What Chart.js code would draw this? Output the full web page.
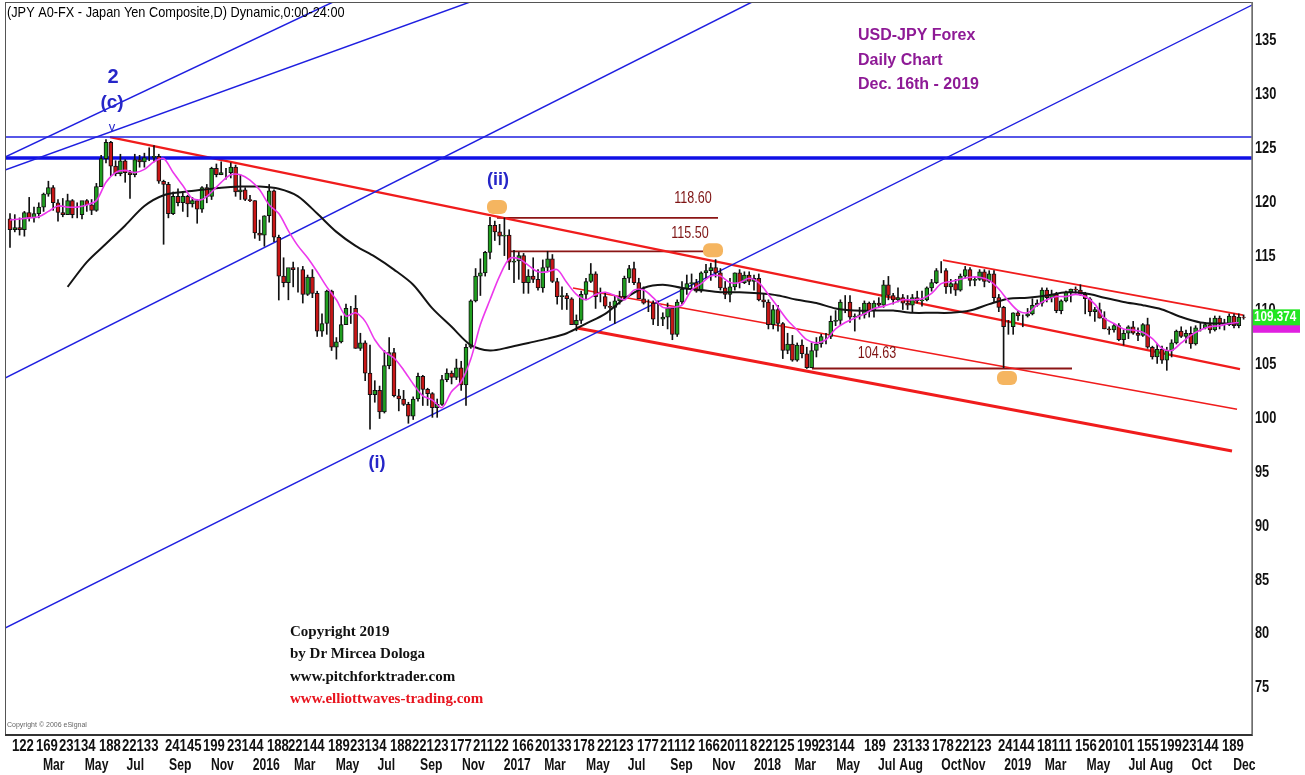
<!DOCTYPE html>
<html>
<head>
<meta charset="utf-8">
<script src="https://cdn.jsdelivr.net/npm/chart.js@4.4.1/dist/chart.umd.min.js"></script>
<style>
  html, body { margin: 0; padding: 0; background: #fff; }
  #wrap { width: 1305px; height: 775px; }
</style>
</head>
<body>
<div id="wrap"><canvas id="grafico" width="1305" height="775"></canvas></div>
<script>
// weekly candles, week 1 = week of 12 Jan 2015 (week 0 = 5 Jan 2015)
const firstOpen = 118.5;

const highs = [
  // 2015
  119.0,118.9,118.6,119.2,120.5,119.6,120.0,120.9,122.0,121.6,
  120.3,120.4,120.8,120.3,120.0,120.0,120.3,120.3,121.8,124.4,
  125.86,125.7,123.9,124.5,124.0,123.0,124.5,124.4,124.6,125.1,
  125.3,124.5,122.1,121.9,121.0,121.3,120.9,120.7,120.5,120.3,
  121.5,121.7,123.3,123.6,123.8,123.2,123.7,123.5,122.6,121.4,120.7,
  // 2016
  120.2,118.4,118.8,121.7,121.2,117.0,114.9,113.5,114.5,114.0,
  114.1,113.3,113.8,111.8,109.7,111.9,111.9,107.5,109.5,110.6,
  110.4,111.4,107.9,107.2,106.8,103.5,103.0,106.3,107.5,106.5,
  102.7,102.6,101.5,102.0,104.2,104.0,102.8,102.4,101.8,104.0,
  104.6,104.4,105.5,105.3,106.9,111.0,113.9,114.8,115.5,118.66,118.3,118.0,
  // 2017
  118.6,117.5,115.6,115.4,115.3,113.8,114.9,113.8,114.7,115.5,
  115.2,113.0,112.2,111.6,111.2,109.6,111.8,113.0,114.37,113.6,
  112.1,111.7,110.8,111.4,111.8,113.2,114.2,114.5,113.0,112.2,
  111.0,110.9,110.9,109.8,110.7,110.3,111.0,112.7,113.3,113.4,
  112.9,113.6,114.3,114.4,114.73,113.9,112.7,113.0,113.5,113.8,113.6,113.6,
  // 2018
  113.3,113.4,111.5,111.0,110.5,110.5,108.9,107.9,107.7,107.0,
  107.3,106.6,107.0,107.5,107.8,107.9,109.5,110.0,111.0,111.4,
  111.4,109.7,110.3,110.9,110.8,110.9,111.2,112.8,113.17,111.6,
  112.1,111.5,111.4,111.5,111.8,111.8,112.2,112.9,113.9,114.55,
  113.9,112.9,112.9,113.4,114.1,114.0,113.1,113.8,113.8,113.7,113.7,111.5,
  // 2019
  110.4,109.1,109.8,110.0,109.6,110.2,111.1,111.0,112.1,112.1,
  111.9,111.7,111.0,111.8,112.0,112.2,112.4,111.7,111.2,110.3,
  110.7,109.9,108.5,108.8,108.8,108.2,108.6,109.0,108.4,108.8,
  109.3,106.7,106.9,106.7,106.6,107.3,108.2,108.5,108.2,108.5,
  108.6,108.9,108.9,109.3,109.5,109.5,109.2,109.7,109.7,109.7,109.6
];

const lows = [
  // 2015
  115.85,117.3,117.0,116.9,118.3,118.2,118.6,119.2,120.6,119.3,
  118.3,118.7,118.9,118.6,118.6,118.5,119.2,118.9,119.2,121.5,
  123.7,122.5,122.5,122.5,121.9,120.4,122.4,123.3,123.3,123.9,
  123.8,121.8,116.15,118.6,118.9,119.7,119.2,118.7,119.6,118.1,
  119.1,120.0,120.3,122.4,122.6,122.2,122.3,120.6,120.3,120.2,120.1,
  // 2016
  116.7,116.5,115.97,118.2,116.4,110.98,112.2,111.0,112.2,111.7,
  110.7,111.4,111.2,107.6,107.6,107.8,106.3,105.5,107.0,108.7,
  108.8,106.5,106.3,103.5,99.0,101.5,99.99,100.5,104.6,102.0,
  100.7,101.2,99.55,99.9,101.6,101.2,101.2,100.1,100.1,101.2,
  103.4,103.2,103.6,102.6,101.2,106.5,110.8,111.4,113.2,114.8,116.5,116.1,
  // 2017
  115.1,113.8,112.6,112.9,111.6,111.6,112.6,111.9,111.7,113.6,
  112.6,110.6,110.1,110.1,108.7,108.13,108.8,111.0,112.6,110.2,
  110.8,110.2,109.1,108.8,110.6,111.0,112.6,112.4,111.1,110.6,
  109.9,108.7,108.6,108.6,108.3,107.3,107.6,110.6,111.5,112.0,
  111.7,111.7,113.0,112.8,113.1,111.9,111.1,110.8,111.9,112.1,112.5,112.4,
  // 2018
  111.9,110.9,110.3,108.3,108.3,108.1,105.55,106.0,105.3,105.3,
  105.6,104.63,104.7,105.7,106.6,106.9,107.4,108.6,108.7,109.8,
  108.9,108.1,109.2,109.3,109.4,109.4,110.3,110.3,111.0,110.6,
  110.8,110.1,110.1,109.8,110.7,110.4,110.9,111.8,112.5,113.5,
  111.6,111.6,111.4,111.8,113.0,112.3,112.3,112.8,112.2,112.6,110.8,109.9,
  // 2019
  104.7,107.8,107.8,109.1,108.5,109.4,109.6,110.4,110.4,110.8,
  110.8,109.8,109.7,110.8,110.8,111.6,111.4,109.7,109.5,109.0,
  109.3,108.3,107.8,108.0,107.2,106.8,107.4,107.8,107.2,107.6,
  106.5,105.5,105.1,105.1,104.46,105.7,106.9,107.5,107.0,106.5,
  106.8,108.1,108.3,107.9,108.1,108.3,108.2,108.6,108.4,108.4,109.2
];

const closes = [
  // 2015
  117.5,117.7,117.5,119.1,118.6,119.0,119.6,120.8,121.4,120.0,
  119.1,118.9,120.2,118.9,118.9,120.2,119.8,119.3,121.5,124.1,
  125.6,123.4,122.7,123.9,122.8,122.6,124.0,123.8,124.2,124.2,
  124.3,122.0,121.7,119.0,120.6,120.0,120.6,119.9,120.2,119.4,
  121.4,120.6,123.2,122.6,122.8,122.8,123.3,121.0,121.2,120.3,120.2,
  // 2016
  117.2,117.0,118.8,121.1,116.8,113.2,112.6,114.0,113.8,113.8,
  111.5,113.1,111.6,108.1,108.8,111.8,106.6,107.1,108.7,110.2,
  110.2,106.5,107.0,104.2,102.2,102.6,100.6,104.9,106.1,102.1,
  101.8,101.3,100.2,101.8,103.9,102.7,102.3,101.0,101.3,103.6,
  104.2,103.8,104.7,103.1,106.6,110.9,113.2,113.5,115.4,117.9,117.3,116.9,
  // 2017
  117.0,114.5,114.6,115.1,112.6,113.2,112.9,112.1,114.0,114.8,
  112.7,111.3,111.4,111.1,108.7,109.1,111.5,112.7,113.4,111.3,
  111.3,110.4,110.3,110.9,111.3,113.0,113.9,112.6,111.1,110.7,
  110.7,109.2,109.2,109.4,110.2,107.8,110.8,112.0,112.5,112.6,
  111.8,113.5,113.7,114.0,113.5,112.1,111.5,112.2,113.5,112.6,113.3,112.7,
  // 2018
  113.0,111.0,110.8,108.7,110.1,108.8,106.3,106.9,105.4,106.8,
  106.0,104.7,106.3,106.9,107.6,107.6,109.0,109.1,110.8,110.8,
  109.4,109.5,109.6,110.7,110.0,110.7,110.5,112.4,111.4,111.0,
  111.2,110.7,110.5,111.2,110.9,111.0,112.1,112.6,113.7,113.7,
  112.2,112.5,111.9,113.2,113.8,112.8,112.9,113.6,112.7,113.4,111.2,110.3,
  // 2019
  108.5,108.5,109.8,109.5,109.5,109.7,110.5,110.7,111.9,111.2,
  111.5,110.0,110.9,111.7,112.0,111.9,111.5,111.1,109.9,110.1,
  109.3,108.3,108.2,108.6,107.3,107.9,108.5,107.9,107.7,108.7,
  106.6,105.7,106.4,105.4,106.3,107.0,108.1,107.6,107.9,106.9,
  108.4,108.4,108.7,108.2,109.3,108.8,108.7,109.5,108.6,109.4,109.374
];

// magenta average, read every 2 weeks from week 1
const maFast = [
  118.4,118.5,118.6,118.7,119.2,119.7,119.6,119.6,119.8,120.2,
  121.9,122.8,123.0,122.8,123.1,123.8,124.1,122.8,121.6,120.4,
  120.3,121.0,121.9,122.6,122.6,122.1,121.2,119.8,119.0,117.4,
  116.0,114.9,113.6,112.2,111.0,109.5,109.8,109.0,107.3,106.2,
  105.6,104.5,103.2,102.1,101.7,101.0,102.5,103.4,105.5,108.7,
  111.0,113.2,114.8,114.8,114.2,113.6,113.6,113.8,112.6,111.5,
  111.0,111.5,111.7,111.4,111.0,111.9,111.9,111.2,110.3,110.3,
  110.5,111.9,112.5,113.2,113.2,112.6,112.6,113.0,112.6,111.5,
  110.3,109.1,108.2,107.3,107.0,107.3,108.3,108.9,109.3,109.7,
  110.2,110.4,110.7,111.0,111.0,111.1,111.6,112.5,112.7,112.9,
  113.1,113.1,112.8,112.0,110.9,110.0,109.8,110.5,111.0,111.3,
  111.3,111.5,111.3,110.6,109.3,108.8,108.3,108.2,108.0,107.4,
  106.5,106.3,107.0,107.7,108.2,108.5,108.6,108.8,108.9
];

// black average, read every 4 weeks from week 13
const maSlow = [
  112.2,114.5,116.2,117.9,119.7,120.7,121.0,121.2,121.4,121.5,
  121.5,121.3,120.6,119.0,117.3,116.0,115.0,113.8,112.4,110.2,
  108.5,106.8,106.3,106.6,107.0,107.4,107.9,108.8,109.7,111.1,
  112.1,112.4,112.1,111.9,111.7,111.7,111.6,111.4,111.0,110.7,
  110.2,110.0,110.0,110.0,109.8,109.8,109.8,110.0,110.6,111.1,
  111.2,111.4,111.7,111.6,111.2,110.8,110.5,110.1,109.4,108.9,
  108.8,108.8
];

// drawn tools: [week1, price1, week2, price2]
const blueLines = [
  [-0.04, 80.55, 259.75, 138.34],
  [-0.04, 103.74, 155.58, 138.62],
  [-0.04, 124.24, 68.29, 138.62],
  [-0.04, 123.03, 96.83, 138.62]
];
const blueLevels = [126.1, 124.15];
const redLines = [
  [21.83, 126.09, 257.25, 104.57],
  [195.38, 114.68, 257.9, 109.58],
  [118.29, 112.09, 256.63, 100.86],
  [119.13, 108.38, 255.58, 96.97]
];
const levels = [118.60, 115.50, 104.63];
const levelFrom = [102.46, 105.17, 168.08];
const levelTo = [148.5, 145.8, 222.25];
const levelText = ["118.60", "115.50", "104.63"];
const levelTextAt = [[143.29, 120.4], [142.67, 117.2], [181.63, 106.06]];
const markers = [[102.46, 119.6], [147.46, 115.6], [208.71, 103.74]];

const waveText = ["2", "(c)", "v", "(ii)", "(i)"];
const waveAt = [[22.46, 131.6], [22.25, 129.25], [22.25, 127.0], [102.67, 122.1], [77.46, 95.85]];

// axes
const yTicks = [75, 80, 85, 90, 95, 100, 105, 110, 115, 120, 125, 130, 135];
const monthStarts = ["2015-03","2015-05","2015-07","2015-09","2015-11","2016-01","2016-03","2016-05","2016-07","2016-09","2016-11",
  "2017-01","2017-03","2017-05","2017-07","2017-09","2017-11","2018-01","2018-03","2018-05","2018-07","2018-08","2018-10","2018-11",
  "2019-01","2019-03","2019-05","2019-07","2019-08","2019-10","2019-12"];
const monthLabels = ["Mar","May","Jul","Sep","Nov","2016","Mar","May","Jul","Sep","Nov",
  "2017","Mar","May","Jul","Sep","Nov","2018","Mar","May","Jul","Aug","Oct","Nov",
  "2019","Mar","May","Jul","Aug","Oct","Dec"];
const dayLabels = ["122","169","23134","188","22133","24145","199","23144","188","22144","189","23134","188","22123","177",
  "21122","166","20133","178","22123","177","21112","166","2011","8","22125","199","23144","189","23133","178","22123",
  "24144","18111","156","20101","155","199","23144","189"];
const dayLabelAt = [1.42,6.42,11.21,19.54,24.33,33.29,41.21,46.21,54.54,58.92,67.25,71.83,80.17,84.75,92.67,
  97.46,105.58,110.38,118.29,123.29,131.63,136.42,144.33,148.92,155.17,156.83,164.96,169.33,178.92,184.96,
  193.08,197.88,206.83,214.96,222.88,227.67,235.79,240.58,245.17,253.5];

const lastPrice = 109.374;
const lastAverage = 108.5;

function weekOf(s) {
  const p = s.split("-").map(Number);
  return (Date.UTC(p[0], p[1] - 1, p[2] || 1) - Date.UTC(2015, 0, 5)) / (7 * 864e5);
}

const opens = closes.map((c, i) => (i === 0 ? firstOpen : closes[i - 1]));
const wicks = closes.map((c, i) => ({ x: i + 1, y: [lows[i], highs[i]] }));
const bodies = closes.map((c, i) => ({ x: i + 1, y: [opens[i], c] }));
const fastPts = maFast.map((v, i) => ({ x: 1 + i * 2, y: v }));
const slowPts = maSlow.map((v, i) => ({ x: 13 + i * 4, y: v }));

const SANS = '"Liberation Sans", Arial, sans-serif';

// condensed text: the chart font is a narrow face, squeeze Liberation Sans
function narrow(ctx, text, x, y, sx) {
  ctx.save();
  ctx.translate(x, y);
  ctx.scale(sx, 1);
  ctx.fillText(text, 0, 0);
  ctx.restore();
}

function segment(l, color, width) {
  return {
    type: "line",
    data: [{ x: l[0], y: l[1] }, { x: l[2], y: l[3] }],
    borderColor: color, borderWidth: width, pointRadius: 0, order: 10
  };
}

const datasets = [];
blueLines.forEach(l => datasets.push(segment(l, "#1f1fe0", 1.4)));
datasets.push(segment([-0.04, blueLevels[0], 259.75, blueLevels[0]], "#1f1fe0", 1.3));
datasets.push(segment([-0.04, blueLevels[1], 259.75, blueLevels[1]], "#1010e6", 3.5));
datasets.push(segment(redLines[0], "#f01c1c", 2.4));
datasets.push(segment(redLines[1], "#f01c1c", 2));
datasets.push(segment(redLines[2], "#f01c1c", 1.5));
datasets.push(segment(redLines[3], "#f01c1c", 3));
levels.forEach((v, i) => datasets.push(segment([levelFrom[i], v, levelTo[i], v], "#8b1515", 1.8)));

datasets.push({
  type: "bar", data: wicks, backgroundColor: "#111", barThickness: 1,
  grouped: false, order: 6
});
datasets.push({
  type: "bar", data: bodies, barThickness: 4, grouped: false, order: 5,
  borderColor: "#111", borderWidth: 1, borderSkipped: false,
  backgroundColor: ctx => (closes[ctx.dataIndex] >= opens[ctx.dataIndex] ? "#1f9e1f" : "#c81616")
});
datasets.push({
  type: "line", data: slowPts, borderColor: "#141414", borderWidth: 2,
  pointRadius: 0, tension: 0.3, order: 2
});
datasets.push({
  type: "line", data: fastPts, borderColor: "#ec38ec", borderWidth: 1.6,
  pointRadius: 0, tension: 0.3, order: 1
});

const marcacoes = {
  id: "marcacoes",
  afterDatasetsDraw(chart) {
    const { ctx, chartArea: a, scales: { x, y } } = chart;
    ctx.save();
    ctx.beginPath();
    ctx.rect(a.left, a.top, a.right - a.left, a.bottom - a.top);
    ctx.clip();

    ctx.fillStyle = "#f5b560";
    markers.forEach(m => {
      const px = x.getPixelForValue(m[0]), py = y.getPixelForValue(m[1]);
      ctx.beginPath();
      ctx.roundRect(px - 10, py - 7, 20, 14, 6);
      ctx.fill();
    });

    ctx.textAlign = "center";
    ctx.textBaseline = "middle";
    ctx.fillStyle = "#7e1414";
    ctx.font = "17px " + SANS;
    levelText.forEach((t, i) => {
      narrow(ctx, t, x.getPixelForValue(levelTextAt[i][0]), y.getPixelForValue(levelTextAt[i][1]), 0.74);
    });

    ctx.fillStyle = "#2626c8";
    const waveFonts = ["bold 20px ", "bold 19px ", "13px ", "bold 18px ", "bold 18px "];
    waveText.forEach((t, i) => {
      ctx.font = waveFonts[i] + SANS;
      ctx.fillText(t, x.getPixelForValue(waveAt[i][0]), y.getPixelForValue(waveAt[i][1]));
    });
    ctx.restore();
  },
  afterDraw(chart) {
    const { ctx, chartArea: a, scales: { x, y } } = chart;
    ctx.save();

    // frame
    ctx.strokeStyle = "#555";
    ctx.lineWidth = 1;
    ctx.strokeRect(a.left + 0.5, a.top + 0.5, a.right - a.left, a.bottom - a.top);
    ctx.strokeStyle = "#777";
    ctx.lineWidth = 1.5;
    ctx.beginPath();
    ctx.moveTo(a.right, a.top);
    ctx.lineTo(a.right, a.bottom);
    ctx.stroke();
    ctx.strokeStyle = "#333";
    ctx.lineWidth = 2;
    ctx.beginPath();
    ctx.moveTo(a.left, a.bottom);
    ctx.lineTo(a.right, a.bottom);
    ctx.stroke();

    // title
    ctx.fillStyle = "#000";
    ctx.textAlign = "left";
    ctx.textBaseline = "middle";
    ctx.font = "15px " + SANS;
    narrow(ctx, "(JPY A0-FX - Japan Yen Composite,D) Dynamic,0:00-24:00", a.left + 2, 13, 0.85);

    ctx.fillStyle = "#8e1a96";
    ctx.font = "bold 16px " + SANS;
    ["USD-JPY Forex", "Daily Chart", "Dec. 16th - 2019"].forEach((t, i) => {
      ctx.fillText(t, 858, 36 + i * 24.5);
    });

    ctx.font = "bold 15px \"Liberation Serif\", \"Times New Roman\", serif";
    ["Copyright 2019", "by Dr Mircea Dologa", "www.pitchforktrader.com", "www.elliottwaves-trading.com"].forEach((t, i) => {
      ctx.fillStyle = i === 3 ? "#e8141e" : "#111";
      ctx.fillText(t, 290, 632 + i * 22.4);
    });

    ctx.fillStyle = "#666";
    ctx.font = "7px " + SANS;
    ctx.fillText("Copyright \u00a9 2006 eSignal", a.left + 2, 725);

    // y axis labels
    ctx.fillStyle = "#111";
    ctx.font = "bold 16px " + SANS;
    yTicks.forEach(v => narrow(ctx, String(v), a.right + 3, y.getPixelForValue(v), 0.8));

    // x axis labels
    dayLabels.forEach((t, i) => narrow(ctx, t, x.getPixelForValue(dayLabelAt[i]), 747, 0.82));
    monthLabels.forEach((t, i) => narrow(ctx, t, x.getPixelForValue(weekOf(monthStarts[i])), 766, 0.76));

    // price boxes
    const yAvg = y.getPixelForValue(lastAverage);
    const yLast = y.getPixelForValue(lastPrice);
    ctx.fillStyle = "#e020e0";
    ctx.fillRect(a.right + 1, yAvg - 6, 47, 12);
    ctx.fillStyle = "#22e622";
    ctx.fillRect(a.right + 1, yLast - 8, 47, 16);
    ctx.fillStyle = "#fff";
    ctx.font = "bold 15px " + SANS;
    narrow(ctx, lastPrice.toFixed(3), a.right + 2, yLast, 0.78);
    ctx.restore();
  }
};

new Chart(document.getElementById("grafico"), {
  type: "bar",
  data: { datasets: datasets },
  options: {
    responsive: false,
    animation: false,
    events: [],
    layout: { padding: { left: 5, top: 2, right: 0, bottom: 0 } },
    plugins: { legend: { display: false }, tooltip: { enabled: false } },
    scales: {
      x: {
        type: "linear", min: -0.04, max: 259.75, offset: false,
        grid: { display: false }, border: { display: false },
        ticks: { display: false },
        afterFit: s => { s.height = 40; }
      },
      y: {
        position: "right", min: 70.64, max: 138.62,
        grid: { display: false, drawTicks: false },
        border: { display: false },
        ticks: { display: false },
        afterBuildTicks: s => { s.ticks = yTicks.map(v => ({ value: v })); },
        afterFit: s => { s.width = 53; }
      }
    }
  },
  plugins: [marcacoes]
});
</script>
</body>
</html>
